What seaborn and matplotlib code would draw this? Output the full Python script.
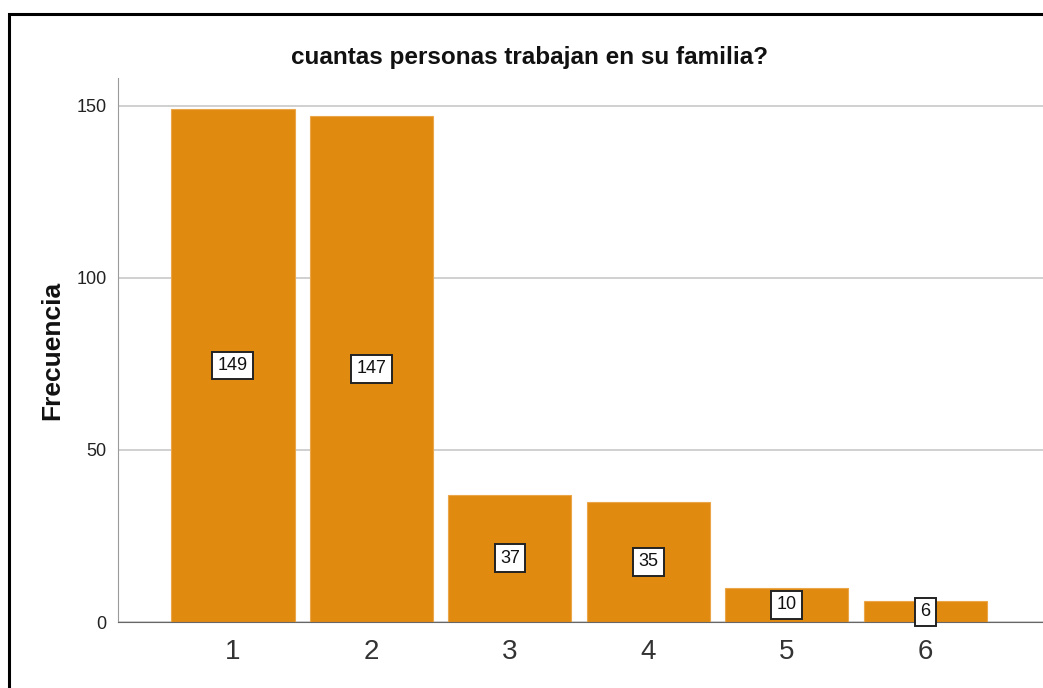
import matplotlib as mpl
import matplotlib.pyplot as plt
import seaborn as sns
import pandas as pd
from matplotlib.patches import Rectangle

sns.set_style('white')
plt.rcParams['font.family'] = ['Liberation Sans', 'DejaVu Sans']

categorias = ['1', '2', '3', '4', '5', '6']
frecuencias = [149, 147, 37, 35, 10, 6]
yticks = [0, 50, 100, 150]

df = pd.DataFrame({'personas': categorias, 'frecuencia': frecuencias})

fig = plt.figure(figsize=(10.43, 6.88), dpi=100)
ax = fig.add_axes([0.1131, 0.0959, 0.8869, 0.7907])

sns.barplot(data=df, x='personas', y='frecuencia', color='#E08A10',
            saturation=1, width=0.89, ax=ax, zorder=3)

for b in ax.patches:
    b.set_edgecolor('#ECA64A')
    b.set_linewidth(0.8)

ax.set_xlim(-0.83, 5.85)
ax.set_ylim(0, 158)
ax.set_yticks(yticks)
ax.yaxis.grid(True, color='#c8c8c8', linewidth=1.2, zorder=0)
ax.set_axisbelow(True)

for s in ['top', 'right']:
    ax.spines[s].set_visible(False)
ax.spines['left'].set_color('#9a9a9a')
ax.spines['bottom'].set_color('#666666')
ax.spines['bottom'].set_zorder(4)
ax.tick_params(axis='y', length=6, color='#9a9a9a', labelsize=13, pad=2,
               labelcolor='#222222')
ax.tick_params(axis='x', length=0, labelsize=20, pad=12, labelcolor='#333333')

ax.set_xlabel('')
ax.set_ylabel('Frecuencia', fontsize=19, fontweight='bold', labelpad=9,
              color='#111111')

for i, v in enumerate(frecuencias):
    ax.text(i, v / 2, str(v), ha='center', va='center', fontsize=13,
            color='#111111', zorder=5,
            bbox=dict(boxstyle='square,pad=0.3', fc='white', ec='#222222',
                      lw=1.4))

fig.text(0.508, 0.917, 'cuantas personas trabajan en su familia?',
         ha='center', va='center', fontsize=17.5, fontweight='bold',
         color='#111111')

fig.patches.append(Rectangle((9 / 1043, -0.2), 1.5, 1.2 - 14 / 688,
                             transform=fig.transFigure, fill=False,
                             ec='black', lw=2.2, clip_on=False))

plt.savefig('out.png', dpi=100, facecolor='w')
